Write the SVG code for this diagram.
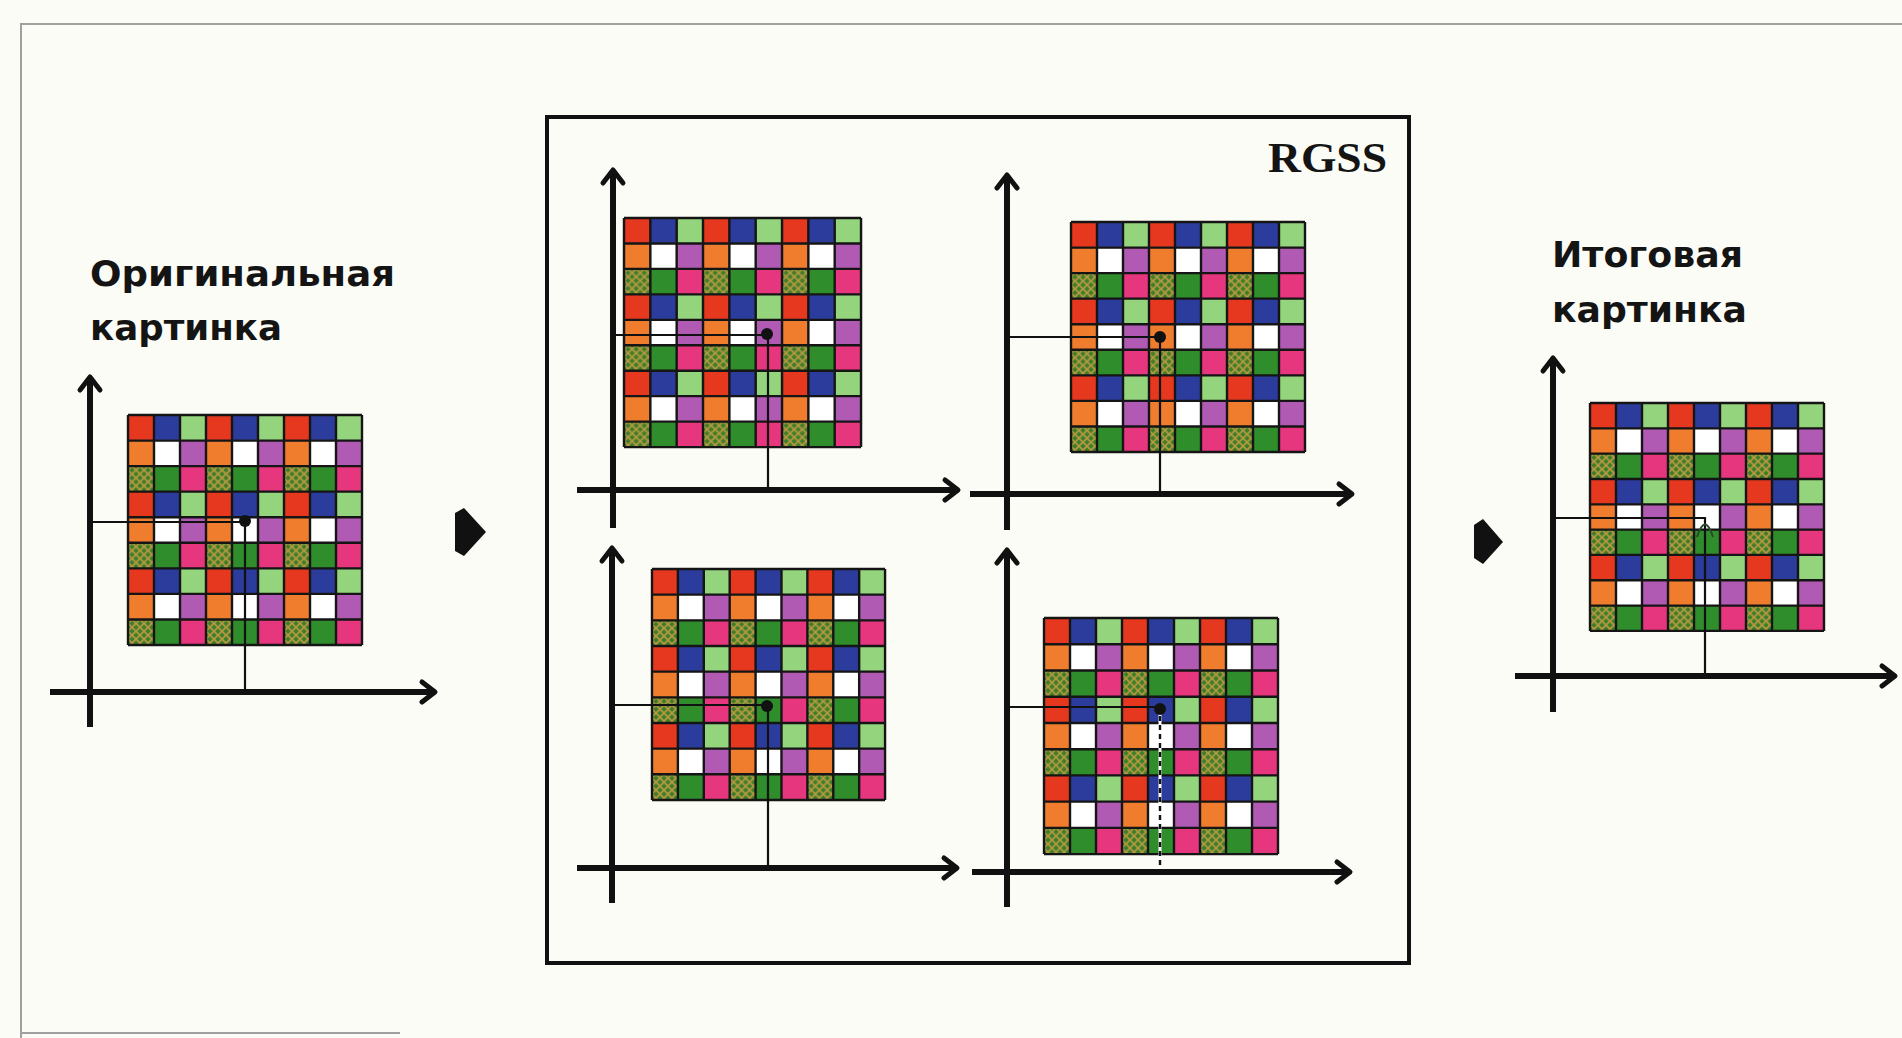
<svg xmlns="http://www.w3.org/2000/svg" xmlns:xlink="http://www.w3.org/1999/xlink" width="1902" height="1038" viewBox="0 0 1902 1038">
<style>
.axis{stroke:#111;stroke-width:6;fill:none;marker-end:url(#ah)}
.thin{stroke:#111;stroke-width:2.2;fill:none}
.label{font-family:"DejaVu Sans","Liberation Sans",sans-serif;font-weight:bold;font-size:36px;fill:#141414}
.frame{stroke:#a0a0a0;stroke-width:2;fill:none}
.gl{stroke:#151515;stroke-width:2.4;fill:none}
</style>
<defs>
<marker id="ah" markerUnits="userSpaceOnUse" markerWidth="40" markerHeight="40" viewBox="-20 -20 40 40" refX="0" refY="0" orient="auto" overflow="visible">
<path d="M-13,-10 L0,0 L-13,10" stroke="#111" stroke-width="5" fill="none" stroke-linecap="round" stroke-linejoin="round"/>
</marker>
<pattern id="hatch" patternUnits="userSpaceOnUse" width="8" height="8">
<rect width="8" height="8" fill="#3e7d2a"/>
<path d="M0,0 L8,8 M8,0 L0,8" stroke="#b89a40" stroke-width="1.6"/>
</pattern>
<pattern id="tile" patternUnits="userSpaceOnUse" width="78" height="78">
<rect x="0" y="0" width="26" height="26" fill="#e5381f"/>
<rect x="26" y="0" width="26" height="26" fill="#2c3c9c"/>
<rect x="52" y="0" width="26" height="26" fill="#93d47c"/>
<rect x="0" y="26" width="26" height="26" fill="#f07d2e"/>
<rect x="26" y="26" width="26" height="26" fill="#ffffff"/>
<rect x="52" y="26" width="26" height="26" fill="#b15ab3"/>
<rect x="0" y="52" width="26" height="26" fill="url(#hatch)"/>
<rect x="26" y="52" width="26" height="26" fill="#2f8d2c"/>
<rect x="52" y="52" width="26" height="26" fill="#e6367e"/>
</pattern>
<g id="grid">
<rect x="0" y="0" width="234" height="234" fill="url(#tile)"/>
<path class="gl" d="M0,0V234M26,0V234M52,0V234M78,0V234M104,0V234M130,0V234M156,0V234M182,0V234M208,0V234M234,0V234M0,0H234M0,26H234M0,52H234M0,78H234M0,104H234M0,130H234M0,156H234M0,182H234M0,208H234M0,234H234"/>
</g>
</defs>
<rect width="1902" height="1038" fill="#fcfcf6"/>
<g id="frame">
<path class="frame" d="M21,1038 V24 H1902"/>
<path class="frame" d="M21,1033 H400"/>
</g>

<g id="original">
<text class="label" x="90" y="286" textLength="305" lengthAdjust="spacingAndGlyphs">Оригинальная</text>
<text class="label" x="90" y="340" textLength="192" lengthAdjust="spacingAndGlyphs">картинка</text>
<use href="#grid" transform="translate(128,415) scale(1,0.983)"/>
<path class="thin" d="M90,522 H245 V692"/>
<circle cx="245" cy="521" r="6" fill="#111"/>
<path class="axis" d="M90,727 V377"/>
<path class="axis" d="M50,692 H435"/>
</g>

<g id="rgss">
<rect x="547" y="117" width="862" height="846" fill="none" stroke="#111" stroke-width="4"/>
<text x="1268" y="172" font-family="Liberation Serif, serif" font-weight="bold" font-size="42" fill="#141414" textLength="119" lengthAdjust="spacingAndGlyphs">RGSS</text>
<g id="sample1">
<use href="#grid" transform="translate(624,218) scale(1.013,0.979)"/>
<path class="thin" d="M613,335 H768 V490"/>
<circle cx="767" cy="334" r="6" fill="#111"/>
<path class="axis" d="M613,528 V170"/>
<path class="axis" d="M577,490 H958"/>
</g>
<g id="sample2">
<use href="#grid" transform="translate(1071,222) scale(1,0.983)"/>
<path class="thin" d="M1007,337 H1160 V494"/>
<circle cx="1160" cy="337" r="6" fill="#111"/>
<path class="axis" d="M1007,530 V175"/>
<path class="axis" d="M970,494 H1352"/>
</g>
<g id="sample3">
<use href="#grid" transform="translate(652,569) scale(0.996,0.987)"/>
<path class="thin" d="M612,705 H768 V868"/>
<circle cx="767" cy="706" r="6" fill="#111"/>
<path class="axis" d="M612,903 V548"/>
<path class="axis" d="M577,868 H957"/>
</g>
<g id="sample4">
<use href="#grid" transform="translate(1044,618) scale(1,1.009)"/>
<path class="thin" d="M1007,707 H1160"/>
<path d="M1160,707 V872" stroke="#fff" stroke-width="3" fill="none"/>
<path d="M1160,707 V872" stroke="#111" stroke-width="2.4" stroke-dasharray="5 4" fill="none"/>
<circle cx="1160" cy="709" r="6" fill="#111"/>
<path class="axis" d="M1007,907 V550"/>
<path class="axis" d="M972,872 H1350"/>
</g>
</g>

<g id="result">
<text class="label" x="1552" y="267" textLength="191" lengthAdjust="spacingAndGlyphs">Итоговая</text>
<text class="label" x="1552" y="322" textLength="195" lengthAdjust="spacingAndGlyphs">картинка</text>
<use href="#grid" transform="translate(1590,403) scale(1,0.974)"/>
<path class="thin" d="M1553,518 H1705 V676"/>
<path d="M1697,537 Q1705,512 1713,537" stroke="#2a4a2a" stroke-width="2" fill="none"/>
<path class="axis" d="M1553,712 V358"/>
<path class="axis" d="M1515,676 H1895"/>
</g>

<g id="connectors">
<path d="M455,513 L464,508 L486,532 L464,556 L455,551 Z" fill="#111"/>
<path d="M1474,525 L1483,519 L1503,542 L1483,564 L1474,558 Z" fill="#111"/>
</g>
</svg>
